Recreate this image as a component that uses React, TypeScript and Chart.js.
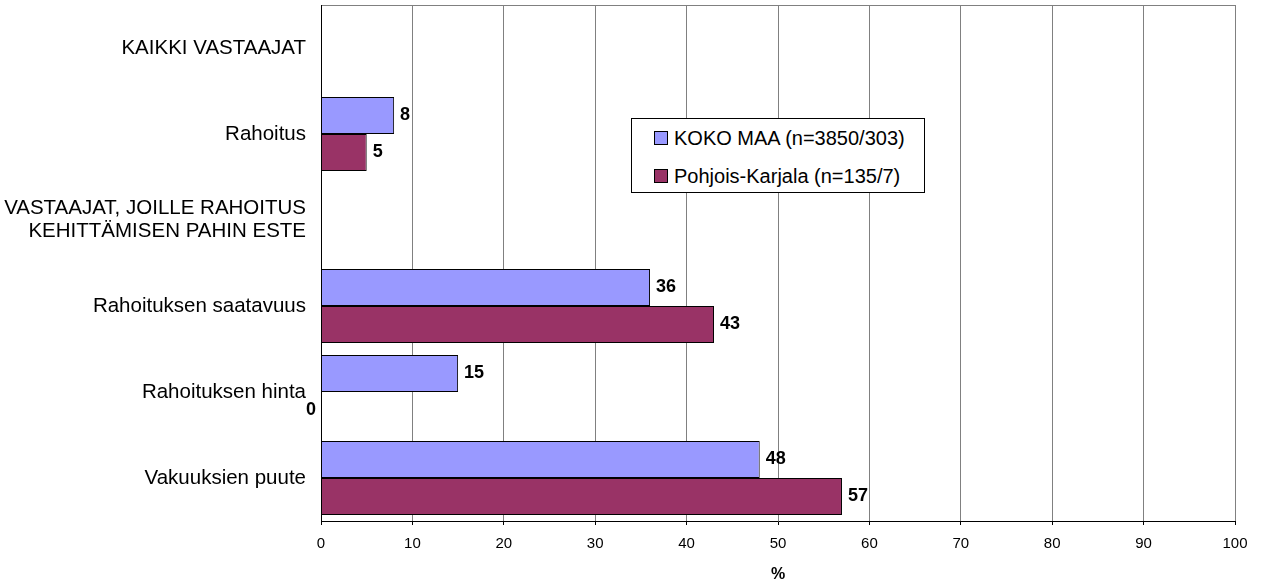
import React, { useEffect, useRef } from "react";
import { Chart, registerables } from "chart.js";

Chart.register(...registerables);

const categories: (string | string[])[] = [
  "KAIKKI VASTAAJAT",
  "Rahoitus",
  ["VASTAAJAT, JOILLE RAHOITUS", "KEHITTÄMISEN PAHIN ESTE"],
  "Rahoituksen saatavuus",
  "Rahoituksen hinta",
  "Vakuuksien puute",
];
const kokoMaa: (number | null)[] = [null, 8, null, 36, 15, 48];
const pohjoisKarjala: (number | null)[] = [null, 5, null, 43, 0, 57];
const seriesNames = ["KOKO MAA (n=3850/303)", "Pohjois-Karjala (n=135/7)"];
const xTicks = [0, 10, 20, 30, 40, 50, 60, 70, 80, 90, 100];

const FONT = "'Liberation Sans', Arial, sans-serif";
const BLUE = "#9999FF";
const RED = "#993366";

const labelPlugin = {
  id: "valueLabels",
  afterDatasetsDraw(chart: any) {
    const ctx = chart.ctx;
    const area = chart.chartArea;
    ctx.save();
    ctx.font = `bold 18px ${FONT}`;
    ctx.fillStyle = "#000";
    ctx.textBaseline = "middle";
    chart.data.datasets.forEach((ds: any, di: number) => {
      const meta = chart.getDatasetMeta(di);
      meta.data.forEach((bar: any, i: number) => {
        const v = ds.data[i];
        if (v === null || v === undefined) return;
        if (v === 0) {
          ctx.textAlign = "right";
          ctx.fillText(String(v), area.left - 5, bar.y);
        } else {
          ctx.textAlign = "left";
          ctx.fillText(String(v), bar.x + 6, bar.y);
        }
      });
    });
    ctx.lineWidth = 1;
    ctx.strokeStyle = "#808080";
    ctx.beginPath();
    ctx.moveTo(area.left, Math.round(area.top) + 0.5);
    ctx.lineTo(area.right, Math.round(area.top) + 0.5);
    ctx.stroke();
    ctx.strokeStyle = "#000";
    ctx.beginPath();
    ctx.moveTo(Math.round(area.left) + 0.5, area.top);
    ctx.lineTo(Math.round(area.left) + 0.5, area.bottom);
    ctx.stroke();
    ctx.restore();
  },
};

export default function App() {
  const ref = useRef<HTMLCanvasElement>(null);
  useEffect(() => {
    document.body.style.margin = "0";
    const chart = new Chart(ref.current!, {
      type: "bar",
      data: {
        labels: categories as any,
        datasets: [
          {
            label: seriesNames[0],
            data: kokoMaa,
            backgroundColor: BLUE,
            borderColor: "#000",
            borderWidth: 1,
            categoryPercentage: 0.86,
            barPercentage: 1,
          },
          {
            label: seriesNames[1],
            data: pohjoisKarjala,
            backgroundColor: RED,
            borderColor: "#000",
            borderWidth: 1,
            categoryPercentage: 0.86,
            barPercentage: 1,
          },
        ],
      },
      options: {
        indexAxis: "y",
        animation: false,
        responsive: false,
        maintainAspectRatio: false,
        layout: { padding: { top: 5, right: 26, bottom: 0, left: 0 } },
        plugins: {
          legend: { display: false },
          tooltip: { enabled: false },
        },
        scales: {
          x: {
            type: "linear",
            min: 0,
            max: 100,
            afterBuildTicks: (scale: any) => {
              scale.ticks = xTicks.map((v) => ({ value: v }));
            },
            afterFit: (scale: any) => {
              scale.height = 63;
              scale.paddingLeft = 0;
              scale.paddingRight = 0;
            },
            grid: {
              color: "#808080",
              tickColor: "#000",
              tickLength: 4,
            },
            border: { color: "#000" },
            ticks: {
              color: "#000",
              padding: 10,
              maxRotation: 0,
              font: { family: FONT, size: 15 },
            },
            title: {
              display: true,
              text: "%",
              color: "#000",
              font: { family: FONT, size: 16, weight: "bold" },
              padding: { top: 0, bottom: 0 },
            },
          },
          y: {
            type: "category",
            afterFit: (scale: any) => {
              scale.width = 321;
              scale.paddingTop = 0;
              scale.paddingBottom = 0;
            },
            grid: { display: true, color: "rgba(0,0,0,0)", drawTicks: false },
            border: { color: "#000" },
            ticks: {
              color: "#000",
              padding: 15,
              font: { family: FONT, size: 20.5, lineHeight: 1.12 },
            },
          },
        },
      },
      plugins: [labelPlugin],
    } as any);
    return () => chart.destroy();
  }, []);

  const legendItem = (color: string, text: string, top: number) => (
    <div
      style={{
        position: "absolute",
        left: 22,
        top,
        display: "flex",
        alignItems: "center",
        whiteSpace: "nowrap",
      }}
    >
      <div
        style={{
          width: 14,
          height: 14,
          background: color,
          border: "1px solid #000",
          boxSizing: "border-box",
          marginRight: 6,
        }}
      />
      <span style={{ fontFamily: FONT, fontSize: 20, color: "#000", lineHeight: "24px" }}>{text}</span>
    </div>
  );

  return (
    <div style={{ position: "relative", width: 1261, height: 584, background: "#fff" }}>
      <canvas ref={ref} width={1261} height={584} style={{ display: "block" }} />
      <div
        style={{
          position: "absolute",
          left: 631,
          top: 118,
          width: 294,
          height: 75,
          border: "1px solid #000",
          boxSizing: "border-box",
          background: "#fff",
        }}
      >
        {legendItem(BLUE, seriesNames[0], 7)}
        {legendItem(RED, seriesNames[1], 45)}
      </div>
    </div>
  );
}
